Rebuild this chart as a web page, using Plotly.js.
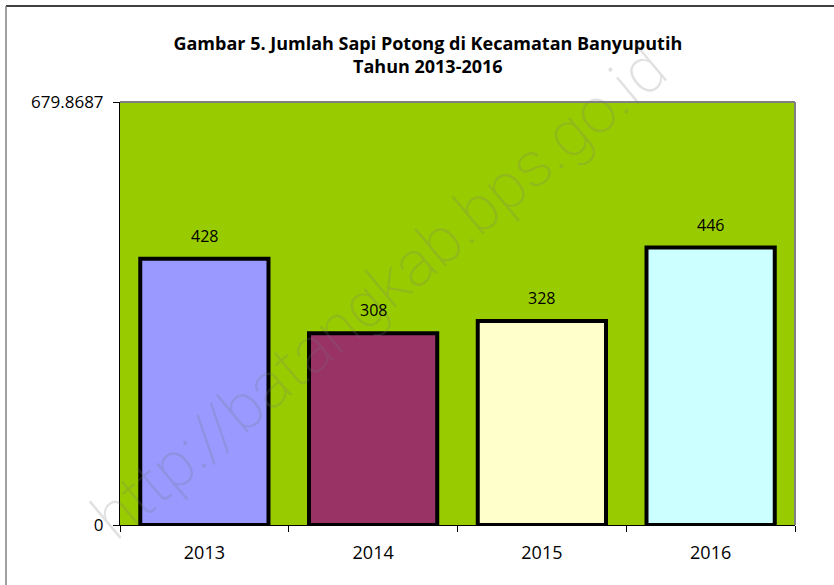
<!DOCTYPE html>
<html><head><meta charset="utf-8">
<script src="https://cdn.plot.ly/plotly-3.0.1.min.js"></script>
<style>html,body{margin:0;padding:0;background:#fff}#chart{width:834px;height:585px}</style>
</head><body><div id="chart"></div>
<script>
const years = ["2013", "2014", "2015", "2016"];
const values = [428, 308, 328, 446];
const barColors = ["#9999FF", "#993366", "#FFFFCC", "#CCFFFF"];
const yMax = 679.8687;
const yTicks = [0, 679.8687];
const yTickLabels = ["0", "679.8687"];

const font = "Open Sans, Liberation Sans, sans-serif";
const trace = {
  type: "bar", x: years, y: values,
  marker: {color: barColors, line: {color: "#000", width: 4}},
  width: 0.76, hoverinfo: "none"
};
const valueLabels = years.map((yr, i) => ({
  text: String(values[i]), x: i, y: values[i], xref: "x", yref: "y",
  yanchor: "bottom", yshift: 10, showarrow: false,
  font: {family: font, size: 16, color: "#000"}
}));
const layout = {
  width: 834, height: 585,
  margin: {l: 120, r: 39, t: 102, b: 60},
  paper_bgcolor: "#fff", plot_bgcolor: "#99CC00",
  showlegend: false,
  title: {text: "<b>Gambar 5. Jumlah Sapi Potong di Kecamatan Banyuputih<br>Tahun 2013-2016</b>",
    x: 0.513, xanchor: "center", y: 0.915, yanchor: "top",
    font: {family: font, size: 18, color: "#000"}},
  xaxis: {type: "category", range: [-0.5, 3.5], showgrid: false, zeroline: false,
    showline: true, linecolor: "#000", linewidth: 1,
    ticks: "outside", ticklen: 6, tickcolor: "#000", tickson: "boundaries",
    ticklabelstandoff: 11,
    tickfont: {family: font, size: 18, color: "#000"}},
  yaxis: {range: [0, yMax], tickvals: yTicks, ticktext: yTickLabels, showgrid: false, zeroline: false,
    showline: true, linecolor: "#000", linewidth: 1,
    ticks: "outside", ticklen: 6, tickcolor: "#000", ticklabelstandoff: 6,
    tickfont: {family: font, size: 17, color: "#000"}},
  shapes: [
    {type: "line", xref: "paper", yref: "paper", x0: 1, x1: 1, y0: 0, y1: 1, line: {color: "#808080", width: 2}},
    {type: "line", xref: "paper", yref: "paper", x0: 0, x1: 1, y0: 1, y1: 1, line: {color: "#808080", width: 2}},
    {type: "line", xref: "paper", yref: "paper", x0: -114/675, x1: 714/675, y0: 1 + 96/423, y1: 1 + 96/423, line: {color: "#000", width: 1.5}},
    {type: "line", xref: "paper", yref: "paper", x0: -114/675, x1: -114/675, y0: 1 + 96/423, y1: -60/423, line: {color: "#808080", width: 1.5}}
  ],
  annotations: [
    {text: "http://batangkab.bps.go.id", xref: "paper", yref: "paper", x: 0.385, y: 0.55,
     showarrow: false, textangle: -40,
     font: {family: "Roboto, Lato, sans-serif", weight: 200, size: 64, color: "rgba(120,120,120,0.22)"}}
  ].concat(valueLabels)
};
Plotly.newPlot("chart", [trace], layout, {displayModeBar: false, staticPlot: true});
</script></body></html>
